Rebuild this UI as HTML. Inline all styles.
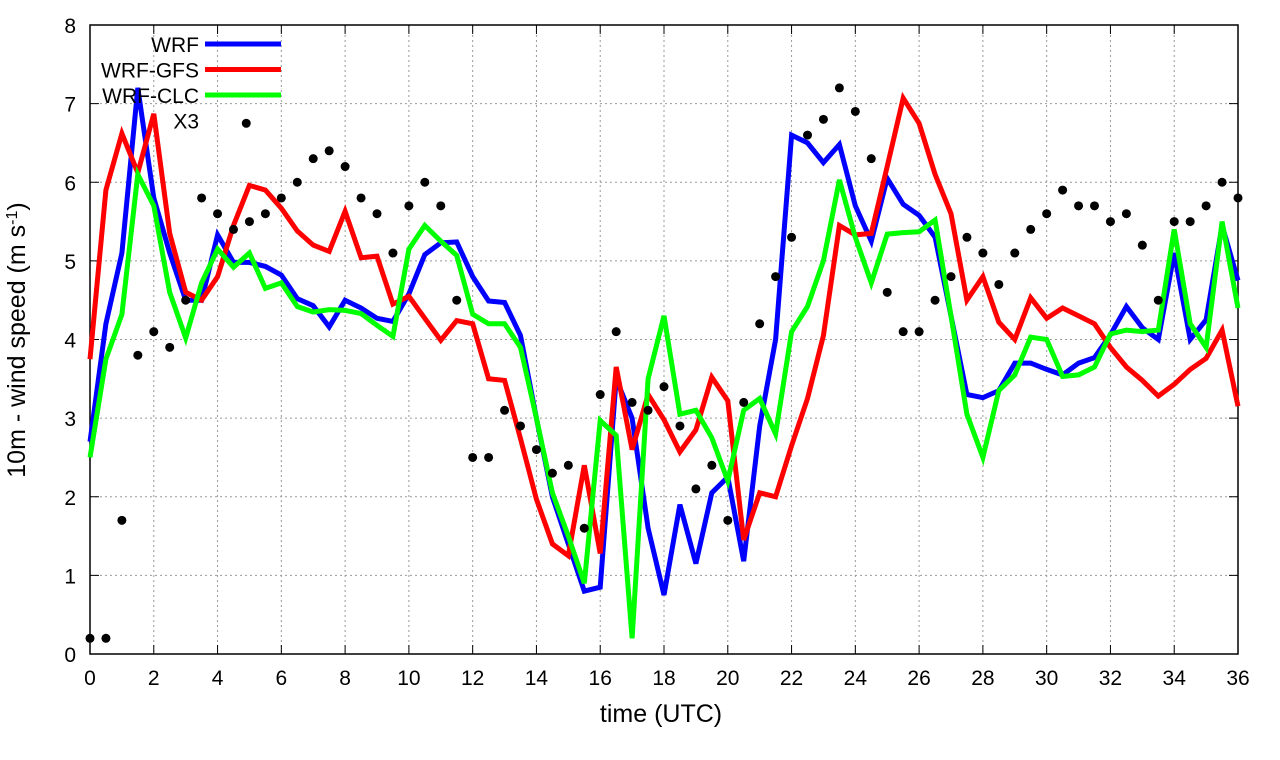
<!DOCTYPE html>
<html><head><meta charset="utf-8"><style>
body{margin:0;background:#fff}
svg{display:block;font-family:"Liberation Sans",sans-serif}
</style></head><body>
<svg id="chart" width="1280" height="760" xmlns="http://www.w3.org/2000/svg">
<g id="grid"></g>
<g id="axes"></g>
<g id="series"></g>
<g id="legend"></g>
<text x="661" y="722" font-size="25" text-anchor="middle">time (UTC)</text>
<text transform="translate(25,340) rotate(-90)" font-size="25" text-anchor="middle">10m - wind speed  (m s<tspan baseline-shift="super" font-size="16">-1</tspan>)</text>
</svg>
<script>
const xTicks=[0,2,4,6,8,10,12,14,16,18,20,22,24,26,28,30,32,34,36];
const yTicks=[0,1,2,3,4,5,6,7,8];
const wrf=[2.7,4.2,5.1,7.2,5.8,5.1,4.5,4.5,5.33,4.98,4.98,4.93,4.82,4.52,4.43,4.16,4.5,4.4,4.27,4.23,4.58,5.08,5.23,5.24,4.8,4.49,4.47,4.05,3.0,2.0,1.4,0.8,0.85,3.5,3.0,1.6,0.75,1.9,1.15,2.05,2.25,1.18,2.9,4.0,6.6,6.5,6.25,6.48,5.7,5.25,6.05,5.72,5.58,5.3,4.3,3.3,3.26,3.35,3.7,3.7,3.62,3.55,3.7,3.77,4.06,4.42,4.15,4.0,5.1,4.0,4.25,5.45,4.75];
const gfs=[3.75,5.9,6.62,6.12,6.87,5.35,4.6,4.5,4.8,5.45,5.96,5.9,5.67,5.38,5.2,5.12,5.63,5.04,5.06,4.45,4.55,4.27,3.99,4.24,4.2,3.5,3.48,2.74,1.97,1.4,1.25,2.4,1.28,3.65,2.6,3.3,2.98,2.57,2.85,3.52,3.22,1.45,2.05,2.0,2.65,3.25,4.05,5.45,5.33,5.35,6.2,7.07,6.75,6.1,5.6,4.5,4.8,4.22,4.0,4.53,4.27,4.4,4.3,4.2,3.9,3.65,3.48,3.28,3.43,3.62,3.76,4.12,3.15];
const clc=[2.5,3.75,4.32,6.1,5.7,4.6,4.02,4.72,5.15,4.92,5.1,4.65,4.72,4.42,4.35,4.38,4.37,4.33,4.18,4.04,5.15,5.45,5.25,5.07,4.32,4.2,4.2,3.9,3.0,2.05,1.5,0.9,2.97,2.78,0.2,3.5,4.3,3.05,3.1,2.75,2.2,3.1,3.25,2.8,4.1,4.42,5.0,6.03,5.3,4.72,5.34,5.36,5.37,5.52,4.3,3.05,2.5,3.35,3.55,4.03,4.0,3.53,3.55,3.65,4.07,4.12,4.1,4.12,5.4,4.2,3.9,5.5,4.4];
const x3Times=[0,0.5,1,1.5,2,2.5,3,3.5,4,4.5,4.9,5,5.5,6,6.5,7,7.5,8,8.5,9,9.5,10,10.5,11,11.5,12,12.5,13,13.5,14,14.5,15,15.5,16,16.5,17,17.5,18,18.5,19,19.5,20,20.5,21,21.5,22,22.5,23,23.5,24,24.5,25,25.5,26,26.5,27,27.5,28,28.5,29,29.5,30,30.5,31,31.5,32,32.5,33,33.5,34,34.5,35,35.5,36];
const x3Vals=[0.2,0.2,1.7,3.8,4.1,3.9,4.5,5.8,5.6,5.4,6.75,5.5,5.6,5.8,6.0,6.3,6.4,6.2,5.8,5.6,5.1,5.7,6.0,5.7,4.5,2.5,2.5,3.1,2.9,2.6,2.3,2.4,1.6,3.3,4.1,3.2,3.1,3.4,2.9,2.1,2.4,1.7,3.2,4.2,4.8,5.3,6.6,6.8,7.2,6.9,6.3,4.6,4.1,4.1,4.5,4.8,5.3,5.1,4.7,5.1,5.4,5.6,5.9,5.7,5.7,5.5,5.6,5.2,4.5,5.5,5.5,5.7,6.0,5.8];
const seriesNames=["WRF","WRF-GFS","WRF-CLC","X3"];
const NS="http://www.w3.org/2000/svg";
const L=90,R=1238,T=25,B=654;
const xs=t=>L+(R-L)*t/36, ys=v=>B-(B-T)*v/8;
function mk(tag,attrs,parent){const e=document.createElementNS(NS,tag);for(const k in attrs)e.setAttribute(k,attrs[k]);parent.appendChild(e);return e;}
const grid=document.getElementById('grid'),axes=document.getElementById('axes'),ser=document.getElementById('series'),leg=document.getElementById('legend');
xTicks.forEach(t=>{const x=xs(t);
 if(t>0&&t<36){const g=mk('line',{x1:x,x2:x,y1:T,y2:B,stroke:'#999','stroke-dasharray':'2,3','stroke-width':1},grid);
 
 }
 const tk=mk('line',{x1:x,x2:x,y1:B,y2:B-9,stroke:'#000'},axes);
 
 
 const tk2=mk('line',{x1:x,x2:x,y1:T,y2:T+9,stroke:'#000'},axes);
 
 
 const lb=mk('text',{x:x,y:B+31,'font-size':21,'text-anchor':'middle'},axes);lb.textContent=t;
 
 
});
yTicks.forEach(v=>{const y=ys(v);
 if(v>0&&v<8){const g=mk('line',{x1:L,x2:R,y1:y,y2:y,stroke:'#999','stroke-dasharray':'2,3','stroke-width':1},grid);
 
 }
 const tk=mk('line',{x1:L,x2:L+9,y1:y,y2:y,stroke:'#000'},axes);
 
 
 const tk2=mk('line',{x1:R,x2:R-9,y1:y,y2:y,stroke:'#000'},axes);
 
 
 const lb=mk('text',{x:L-14,y:y+8,'font-size':21,'text-anchor':'end'},axes);lb.textContent=v;
 
 
});
const frame=mk('rect',{x:L,y:T,width:R-L,height:B-T,fill:'none',stroke:'#000','stroke-width':1.5},axes);


function line(vals,color,name){const pts=vals.map((v,i)=>xs(i*0.5).toFixed(1)+','+ys(v).toFixed(1)).join(' ');
 const p=mk('polyline',{points:pts,fill:'none',stroke:color,'stroke-width':5,'stroke-linejoin':'miter'},ser);
 
 }
line(wrf,'#0000ff','wrf-line');
line(gfs,'#ff0000','wrf-gfs-line');
line(clc,'#00ff00','wrf-clc-line');
x3Times.forEach((t,i)=>{const c=mk('circle',{cx:xs(t),cy:ys(x3Vals[i]),r:4.5,fill:'#000'},ser);
 
 });
const lc=['#0000ff','#ff0000','#00ff00',null];
seriesNames.forEach((n,i)=>{const y=44+i*25.5;
 const tx=mk('text',{x:199,y:y+8,'font-size':21,'text-anchor':'end'},leg);tx.textContent=n;
 
 
 if(lc[i]){const ln=mk('line',{x1:205,x2:281,y1:y,y2:y,stroke:lc[i],'stroke-width':5},leg);
 
 }
});
</script>
</body></html>
